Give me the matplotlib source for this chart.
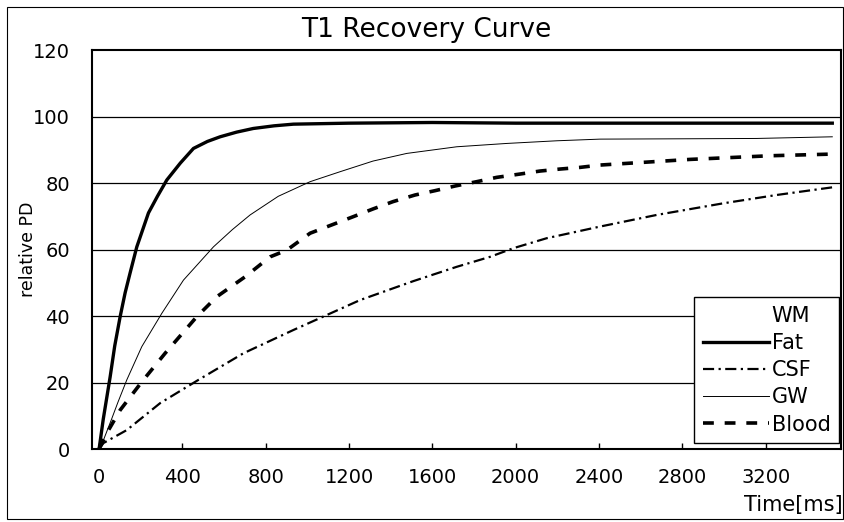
import matplotlib.pyplot as plt
from matplotlib.lines import Line2D
from matplotlib.patches import Rectangle

# values
fat_time = [0, 20, 53, 75, 101, 125, 149, 181, 237, 280, 325, 390, 453, 520, 581, 660, 740, 840, 933,
            1200, 1600, 2000, 2400, 2800, 3200, 3520]
fat_pd = [0, 9, 21.7, 31, 39.8, 47, 53, 60.8, 71, 76, 80.9, 86, 90.4, 92.5, 93.9, 95.3, 96.4, 97.2, 97.7,
          98, 98.2, 98, 98, 98, 98, 98]

csf_time = [0, 21, 133, 293, 477, 693, 933, 1093, 1253, 1509, 1717, 1877, 1989, 2149, 2405, 2677, 2997, 3253, 3520]
csf_pd = [0, 1.8, 5.7, 13.8, 20.8, 28.8, 35.8, 40.3, 44.8, 50.5, 54.8, 57.8, 60.4, 63.4, 66.9, 70.4, 73.9, 76.4, 78.7]

gw_time = [0, 21, 60, 90, 133, 205, 301, 405, 549, 640, 725, 860, 1013, 1157, 1315, 1477, 1717, 1957, 2197,
           2405, 2800, 3157, 3520]
gw_pd = [0, 2.7, 9, 14, 20.8, 30.8, 40.8, 50.8, 60.8, 66, 70.4, 76, 80.4, 83.4, 86.6, 88.9, 90.9, 91.9, 92.7,
         93.2, 93.3, 93.4, 93.9]

blood_time = [0, 37, 101, 205, 317, 469, 565, 701, 821, 901, 1013, 1221, 1315, 1411, 1517, 1613, 1709,
              1813, 1909, 2021, 2117, 2213, 2309, 2405, 2837, 3221, 3520]
blood_pd = [0, 4.8, 11.7, 20.2, 28.8, 39.8, 45.8, 51.8, 57.8, 59.8, 64.9, 69.9, 72.2, 74.4, 76.4, 77.7, 79.1,
            80.4, 81.7, 82.7, 83.6, 84.2, 84.7, 85.4, 87.1, 88.2, 88.7]

x_ticks = [0, 400, 800, 1200, 1600, 2000, 2400, 2800, 3200]
y_ticks = [0, 20, 40, 60, 80, 100, 120]

fig = plt.figure(figsize=(8.45, 5.22), dpi=100)
ax = fig.add_axes([0.1089, 0.1398, 0.8864, 0.7644])

for y in y_ticks[1:-1]:
    ax.axhline(y, color="black", lw=0.9, zorder=1)

ax.plot(fat_time, fat_pd, color="black", lw=2.4, zorder=3)
ax.plot(csf_time, csf_pd, color="black", lw=1.6, dashes=(5, 2, 1, 2), zorder=3)
ax.plot(gw_time, gw_pd, color="black", lw=0.7, zorder=3)
ax.plot(blood_time, blood_pd, color="black", lw=2.6, dashes=(3, 3), zorder=3)

ax.set_xlim(-34, 3562)
ax.set_ylim(0, 120)
ax.set_xticks(x_ticks)
ax.set_yticks(y_ticks)
ax.tick_params(axis="x", direction="in", length=4, width=1, pad=14, labelsize=14)
ax.tick_params(axis="y", length=0, pad=16, labelsize=14)
for s in ax.spines.values():
    s.set_linewidth(1.5)

ax.set_ylabel("relative PD", fontsize=12.5)
ax.yaxis.set_label_coords(-0.074, 0.5)
fig.text(0.997, 0.032, "Time[ms]", ha="right", va="center", fontsize=15)
fig.text(0.504, 0.943, "T1 Recovery Curve", ha="center", va="center", fontsize=19)

handles = [
    Line2D([], [], linestyle="none"),
    Line2D([], [], color="black", lw=2.4),
    Line2D([], [], color="black", lw=1.6, dashes=(5, 2, 1, 2)),
    Line2D([], [], color="black", lw=0.7),
    Line2D([], [], color="black", lw=2.6, dashes=(3, 3)),
]
leg = ax.legend(handles, ["WM", "Fat", "CSF", "GW", "Blood"], loc="lower right",
                bbox_to_anchor=(0.997, 0.015), borderaxespad=0, fontsize=15,
                handlelength=3.2, handletextpad=0.1, labelspacing=0.35,
                fancybox=False, framealpha=1, edgecolor="black", borderpad=0.4)
leg.get_frame().set_linewidth(1)

fig.patches.append(Rectangle((0.008, 0.005), 0.99, 0.982, transform=fig.transFigure,
                             fill=False, edgecolor="black", lw=0.8))

plt.savefig("out.png")
